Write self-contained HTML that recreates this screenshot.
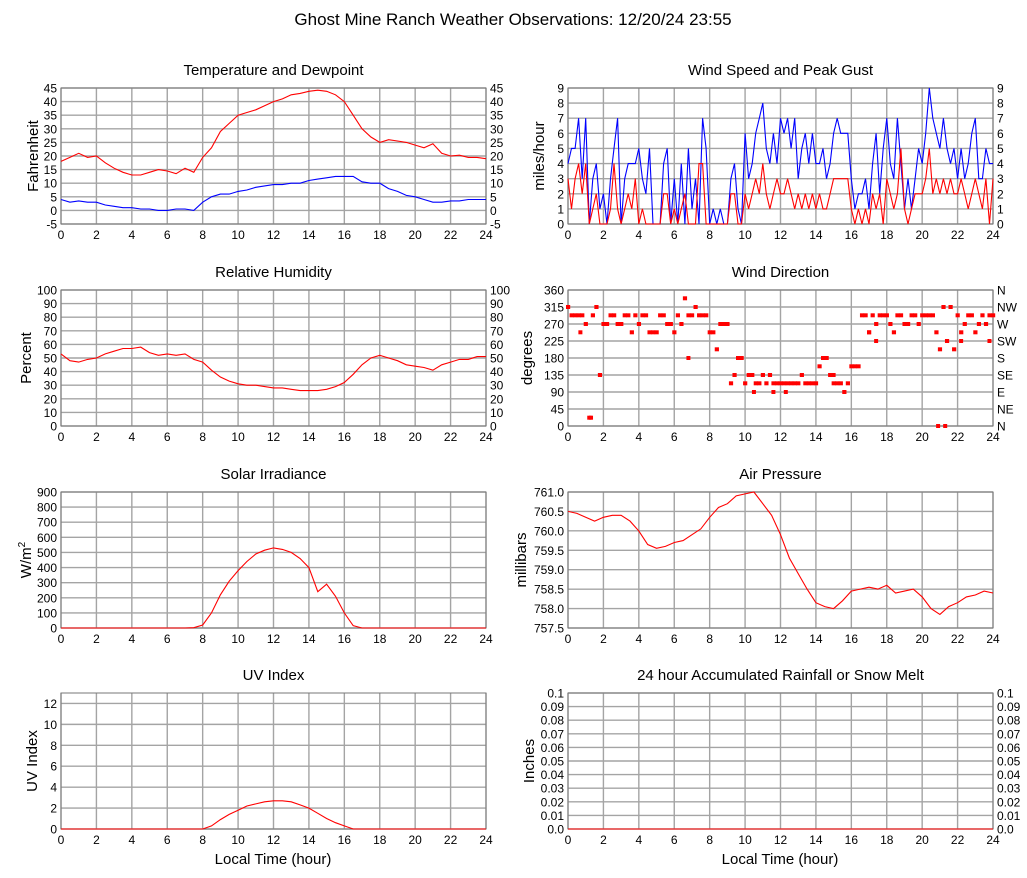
<!DOCTYPE html>
<html><head><meta charset="utf-8">
<style>
html,body{margin:0;padding:0;background:#fff;}
svg{display:block;font-family:"Liberation Sans",Arial,sans-serif;}
</style></head>
<body>
<svg id="chart" width="1027" height="878" viewBox="0 0 1027 878" xmlns="http://www.w3.org/2000/svg">
<text x="513" y="25" font-size="17" text-anchor="middle">Ghost Mine Ranch Weather Observations: 12/20/24 23:55</text>
<text x="273" y="864" font-size="15" text-anchor="middle">Local Time (hour)</text>
<text x="780" y="864" font-size="15" text-anchor="middle">Local Time (hour)</text>
</svg>
<script>
// ---- data (half-hour series) ----
const tempF = [18,19.5,21,19.5,20,17.5,15.5,14,13,13,14,15,14.5,13.5,15.5,14,19.5,23,29,32,35,36,37,38.5,40,41,42.5,43,43.8,44.2,43.8,42.5,40,35,30,27,25,26,25.5,25,24,23,24.5,21,20,20.3,19.5,19.5,19];
const dewF = [4,3,3.5,3,3,2,1.5,1,1,0.5,0.5,0,0,0.5,0.5,0,3,5,6,6,7,7.5,8.5,9,9.5,9.5,10,10,11,11.5,12,12.5,12.5,12.5,10.5,10,10,8,7,5.5,5,4,3,3,3.5,3.5,4,4,4];
const humidity = [53,48,47,49,50,53,55,57,57,58,54,52,53,52,53,49,47,41,36,33,31,30,30,29,28,28,27,26,26,26,27,29,32,38,45,50,52,50,48,45,44,43,41,45,47,49,49,51,51];
const solar = [0,0,0,0,0,0,0,0,0,0,0,0,0,0,0,2,20,100,220,310,380,440,490,515,530,520,500,460,400,240,290,210,100,15,0,0,0,0,0,0,0,0,0,0,0,0,0,0,0];
const uvIndex = [0,0,0,0,0,0,0,0,0,0,0,0,0,0,0,0,0,0.3,0.9,1.4,1.8,2.2,2.4,2.6,2.7,2.7,2.6,2.3,2.0,1.5,1.0,0.6,0.3,0,0,0,0,0,0,0,0,0,0,0,0,0,0,0,0];
const pressure = [760.5,760.45,760.35,760.25,760.35,760.4,760.4,760.25,760.0,759.65,759.55,759.6,759.7,759.75,759.9,760.05,760.35,760.6,760.7,760.9,760.95,761.0,760.7,760.4,759.9,759.3,758.9,758.5,758.15,758.05,758.0,758.2,758.45,758.5,758.55,758.5,758.6,758.4,758.45,758.5,758.3,758.0,757.85,758.05,758.15,758.3,758.35,758.45,758.4];
const rain = [0,0,0,0,0,0,0,0,0,0,0,0,0,0,0,0,0,0,0,0,0,0,0,0,0,0,0,0,0,0,0,0,0,0,0,0,0,0,0,0,0,0,0,0,0,0,0,0,0];
// ---- data (0.2 hour series) ----
const gustMph = [4,5,5,7,3,7,0,3,4,1,2,0,3,5,7,0,3,4,4,4,5,3,2,5,0,0,0,4,5,0,3,0,4,0,5,1,3,0,7,5,0,1,0,1,0,0,3,4,1,0,6,3,4,6,7,8,5,4,6,4,7,6,7,5,7,3,5,6,4,6,4,4,5,3,4,6,7,6,6,6,3,1,2,2,3,1,4,6,2,5,7,4,3,7,4,1,3,1,3,5,4,6,9,7,6,5,7,5,4,5,3,5,3,4,6,7,3,3,5,4,4];
const speedMph = [3,1,3,4,2,4,0,1,2,0,0,0,1,4,1,0,1,2,1,3,0,1,0,0,0,0,0,2,2,0,1,0,1,2,0,0,0,4,4,0,0,0,0,0,0,0,2,2,0,0,2,1,2,3,2,4,2,1,2,3,2,2,3,2,1,2,1,2,1,2,1,2,1,1,2,3,3,3,3,3,1,0,1,0,1,0,2,1,2,0,3,2,1,2,5,1,0,1,2,2,2,3,5,2,3,2,3,2,3,2,2,3,2,1,2,3,2,1,3,0,3];
const windDir = [315,293,293,293,293,270,22,293,315,135,270,270,293,293,270,270,293,293,248,293,270,293,293,248,248,248,293,293,270,270,248,293,270,338,293,293,315,293,293,293,248,248,203,270,270,270,113,135,180,180,113,135,135,113,113,135,113,135,113,113,113,113,113,113,113,113,135,113,113,113,113,158,180,180,135,113,113,113,90,113,158,158,158,293,293,248,293,270,293,293,293,270,248,293,293,270,270,293,293,270,293,293,293,293,248,203,315,225,315,203,293,248,270,293,293,248,270,293,270,293,293];
const extraDirHours = [0.7,1.3,3.0,6.8,9.6,10.5,11.6,12.3,15.0,17.0,17.4,20.9,21.3,22.2,23.8];
const extraDirValues = [248,22,270,180,180,90,90,90,135,248,225,0,0,225,225];
const xTicks = [0,2,4,6,8,10,12,14,16,18,20,22,24];

const NS = "http://www.w3.org/2000/svg";
const svg = document.getElementById('chart');
function mk(tag, attrs, parent){const e=document.createElementNS(NS,tag);for(const k in attrs)e.setAttribute(k,attrs[k]);(parent||svg).appendChild(e);return e;}
const W=425,H=136;

function panel(cfg){
  const g = mk('g',{});
  
  
  const L=cfg.x,T=cfg.y;
  const sx=h=>L+h/24*W;
  const sy=v=>T+H-(v-cfg.min)/(cfg.max-cfg.min)*H;
  cfg.sx=sx;cfg.sy=sy;
  const t = mk('text',{x:L+W/2,y:T-13,'font-size':15,'text-anchor':'middle'},g);
  t.textContent=cfg.title;
  
  
  cfg.yTicks.forEach((v,i)=>{
    const y=sy(v);
    mk('line',{x1:L,x2:L+W,y1:y,y2:y,stroke:'#a4a4a4','stroke-width':1.4},g);
    const tl=mk('text',{x:L-4,y:y+4.5,'font-size':12,'text-anchor':'end'},g);
    tl.textContent=cfg.yLabels[i];
    
    
    if(cfg.rightLabels){
      const tr=mk('text',{x:L+W+4,y:y+4.5,'font-size':12},g);
      tr.textContent=cfg.rightLabels[i];
      
      
    }
  });
  xTicks.forEach(h=>{
    const x=sx(h);
    mk('line',{x1:x,x2:x,y1:T,y2:T+H,stroke:'#a4a4a4','stroke-width':1.4},g);
    const tx=mk('text',{x:x,y:T+H+15,'font-size':12,'text-anchor':'middle'},g);
    tx.textContent=h;
    
    
  });
  mk('rect',{x:L,y:T,width:W,height:H,fill:'none',stroke:'#777','stroke-width':1},g);
  const yl=mk('text',{x:cfg.ylx,y:T+H/2,'font-size':15,'text-anchor':'middle',transform:`rotate(-90 ${cfg.ylx} ${T+H/2})`},g);
  yl.innerHTML=cfg.ylabel;
  
  
  cfg.g=g;
  return cfg;
}
function line(cfg,vals,step,color,name){
  const pts=vals.map((v,i)=>cfg.sx(i*step).toFixed(1)+','+cfg.sy(v).toFixed(1)).join(' ');
  const p=mk('polyline',{points:pts,fill:'none',stroke:color,'stroke-width':1.1},cfg.g);
  
  
}
function seq(a,b,s){const r=[];for(let v=a;v<=b+1e-9;v+=s)r.push(+v.toFixed(4));return r;}

const Lx=61,Rx=568;
const tp=panel({name:'temperature-panel',title:'Temperature and Dewpoint',x:Lx,y:88,min:-5,max:45,yTicks:seq(-5,45,5),yLabels:seq(-5,45,5),rightLabels:seq(-5,45,5),ylabel:'Fahrenheit',ylx:38});
line(tp,tempF,0.5,'#ff0000','temperature-line');
line(tp,dewF,0.5,'#0000ff','dewpoint-line');

const wp=panel({name:'wind-speed-panel',title:'Wind Speed and Peak Gust',x:Rx,y:88,min:0,max:9,yTicks:seq(0,9,1),yLabels:seq(0,9,1),rightLabels:seq(0,9,1),ylabel:'miles/hour',ylx:544});
line(wp,gustMph,0.2,'#0000ff','gust-line');
line(wp,speedMph,0.2,'#ff0000','speed-line');

const hp=panel({name:'humidity-panel',title:'Relative Humidity',x:Lx,y:290,min:0,max:100,yTicks:seq(0,100,10),yLabels:seq(0,100,10),rightLabels:seq(0,100,10),ylabel:'Percent',ylx:31});
line(hp,humidity,0.5,'#ff0000','humidity-line');

const dp=panel({name:'wind-direction-panel',title:'Wind Direction',x:Rx,y:290,min:0,max:360,yTicks:seq(0,360,45),yLabels:seq(0,360,45),rightLabels:['N','NE','E','SE','S','SW','W','NW','N'],ylabel:'degrees',ylx:532});
windDir.forEach((v,i)=>{
  const r=mk('rect',{x:dp.sx(i*0.2)-2,y:dp.sy(v)-2,width:4.2,height:4,fill:'#ff0000'},dp.g);
  
  
});
extraDirHours.forEach((h,i)=>{
  const r=mk('rect',{x:dp.sx(h)-2,y:dp.sy(extraDirValues[i])-2,width:4,height:4,fill:'#ff0000'},dp.g);
  
  
});

const sp=panel({name:'solar-panel',title:'Solar Irradiance',x:Lx,y:492,min:0,max:900,yTicks:seq(0,900,100),yLabels:seq(0,900,100),ylabel:'W/m<tspan font-size="10" dy="-6">2</tspan>',ylx:31});
line(sp,solar,0.5,'#ff0000','solar-line');

const pp=panel({name:'pressure-panel',title:'Air Pressure',x:Rx,y:492,min:757.5,max:761,yTicks:seq(757.5,761,0.5),yLabels:seq(757.5,761,0.5).map(v=>v.toFixed(1)),ylabel:'millibars',ylx:526});
line(pp,pressure,0.5,'#ff0000','pressure-line');

const up=panel({name:'uv-panel',title:'UV Index',x:Lx,y:693,min:0,max:13,yTicks:seq(0,12,2),yLabels:seq(0,12,2),ylabel:'UV Index',ylx:37});
line(up,uvIndex,0.5,'#ff0000','uv-line');

const rp=panel({name:'rain-panel',title:'24 hour Accumulated Rainfall or Snow Melt',x:Rx,y:693,min:0,max:0.1,yTicks:seq(0,0.1,0.01),yLabels:seq(0,0.1,0.01).map(v=>v===0?'0.0':String(+v.toFixed(2))),rightLabels:seq(0,0.1,0.01).map(v=>v===0?'0.0':String(+v.toFixed(2))),ylabel:'Inches',ylx:534});
line(rp,rain,0.5,'#ff0000','rain-line');
</script>
</body></html>
